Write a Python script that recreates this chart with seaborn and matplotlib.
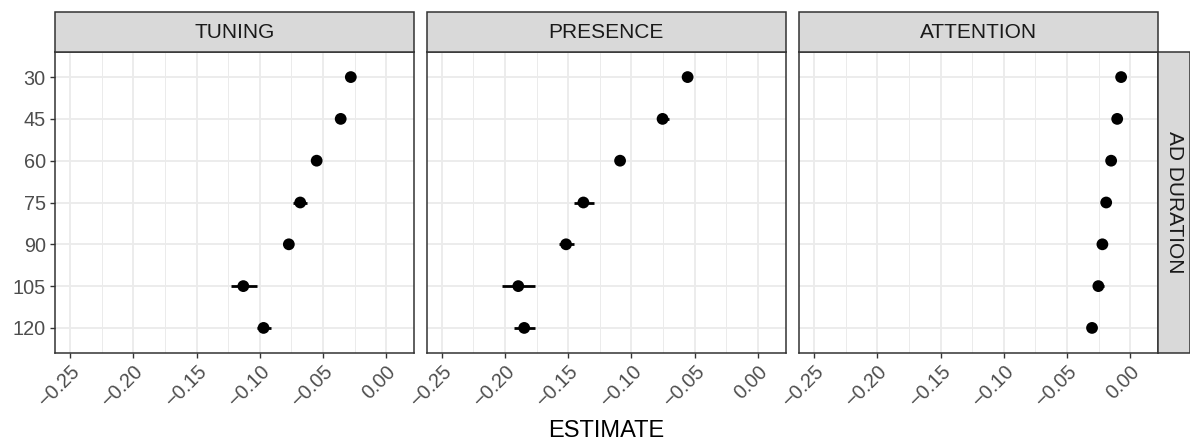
import numpy as np
import pandas as pd
import matplotlib
matplotlib.use("Agg")
import matplotlib.pyplot as plt
from matplotlib.patches import Rectangle
from matplotlib.ticker import MultipleLocator, FuncFormatter
import seaborn as sns

# 1. data
durations = ["30", "45", "60", "75", "90", "105", "120"]
outcomes = ["TUNING", "PRESENCE", "ATTENTION"]

tuning_est = [-0.028, -0.036, -0.055, -0.068, -0.077, -0.113, -0.097]
tuning_lo = [-0.030, -0.038, -0.057, -0.074, -0.079, -0.123, -0.102]
tuning_hi = [-0.026, -0.034, -0.053, -0.063, -0.075, -0.102, -0.091]

presence_est = [-0.0556, -0.0754, -0.109, -0.138, -0.1517, -0.1895, -0.1848]
presence_lo = [-0.0576, -0.0800, -0.111, -0.1456, -0.1575, -0.2022, -0.1925]
presence_hi = [-0.0536, -0.0707, -0.107, -0.1297, -0.1456, -0.1766, -0.1766]

attention_est = [-0.0072, -0.0103, -0.0151, -0.0190, -0.0220, -0.0252, -0.0302]
attention_lo = [-0.0082, -0.0113, -0.0161, -0.0200, -0.0232, -0.0297, -0.0318]
attention_hi = [-0.0062, -0.0093, -0.0141, -0.0180, -0.0208, -0.0204, -0.0286]

frames = []
for name, est, lo, hi in [("TUNING", tuning_est, tuning_lo, tuning_hi),
                          ("PRESENCE", presence_est, presence_lo, presence_hi),
                          ("ATTENTION", attention_est, attention_lo, attention_hi)]:
    frames.append(pd.DataFrame({"outcome": name, "duration": durations,
                                "estimate": est, "lo": lo, "hi": hi}))
df = pd.concat(frames, ignore_index=True)

# 2. style
sns.set_style("white")
plt.rcParams["font.family"] = ["Liberation Sans", "DejaVu Sans"]
plt.rcParams["axes.unicode_minus"] = True

W, H = 1190, 443
fig = plt.figure(figsize=(W / 100, H / 100), dpi=100)

panel_x = [55, 426.7, 799]
panel_w = 359.3
panel_top, panel_bot = 52, 353
strip_h = 40

grey20 = "#333333"
grid_col = "#ebebeb"


def fmt(v, pos):
    s = f"{v:.2f}"
    if s == "-0.00":
        s = "0.00"
    return s.replace("-", "\u2212")


axes = []
for i, name in enumerate(outcomes):
    ax = fig.add_axes([panel_x[i] / W, 1 - panel_bot / H,
                       panel_w / W, (panel_bot - panel_top) / H])
    axes.append(ax)
    data = df[df["outcome"] == name]

    # 3. CI bars + point estimates
    ax.hlines(y=data["duration"], xmin=data["lo"], xmax=data["hi"],
              color="black", linewidth=2.0, zorder=3)
    sns.scatterplot(data=data, x="estimate", y="duration", color="black",
                    s=72, edgecolor="none", ax=ax, zorder=4)

    ax.set_xlim(-0.2619, 0.0222)
    ax.set_ylim(len(durations) - 0.4, -0.6)
    ax.xaxis.set_major_locator(MultipleLocator(0.05))
    ax.xaxis.set_minor_locator(MultipleLocator(0.025))
    ax.xaxis.set_major_formatter(FuncFormatter(fmt))

    ax.grid(which="major", color=grid_col, linewidth=1.3, zorder=0)
    ax.grid(which="minor", axis="x", color=grid_col, linewidth=0.7, zorder=0)
    ax.set_axisbelow(True)

    for sp in ax.spines.values():
        sp.set_color(grey20)
        sp.set_linewidth(1.1)

    ax.tick_params(axis="both", which="major", length=3.6, width=1.0,
                   color=grey20, labelcolor="#4d4d4d", labelsize=14.3, pad=3)
    ax.tick_params(axis="both", which="minor", length=0)
    ax.tick_params(axis="x", bottom=True)
    ax.tick_params(axis="y", left=(i == 0), labelleft=(i == 0))
    for lab in ax.get_xticklabels():
        lab.set_rotation(45)
        lab.set_ha("right")
        lab.set_va("top")
        lab.set_rotation_mode("anchor")
    ax.set_xlabel("")
    ax.set_ylabel("")

    # facet strip on top
    sh = strip_h / (panel_bot - panel_top)
    ax.add_patch(Rectangle((0, 1), 1, sh, transform=ax.transAxes,
                           facecolor="#d9d9d9", edgecolor=grey20,
                           linewidth=1.1, clip_on=False, zorder=5))
    ax.text(0.5, 1 + sh / 2, name, transform=ax.transAxes, ha="center",
            va="center", fontsize=15, color="#1a1a1a", zorder=6)

# right strip
ax = axes[-1]
sw = 32 / panel_w
ax.add_patch(Rectangle((1, 0), sw, 1, transform=ax.transAxes,
                       facecolor="#d9d9d9", edgecolor=grey20,
                       linewidth=1.1, clip_on=False, zorder=5))
ax.text(1 + sw / 2, 0.5, "AD DURATION", transform=ax.transAxes, ha="center",
        va="center", rotation=-90, fontsize=15, color="#1a1a1a", zorder=6)

fig.text(606 / W, 6 / H, "ESTIMATE", ha="center", va="baseline",
         fontsize=17, color="black")

fig.savefig("out.png", dpi=100)
